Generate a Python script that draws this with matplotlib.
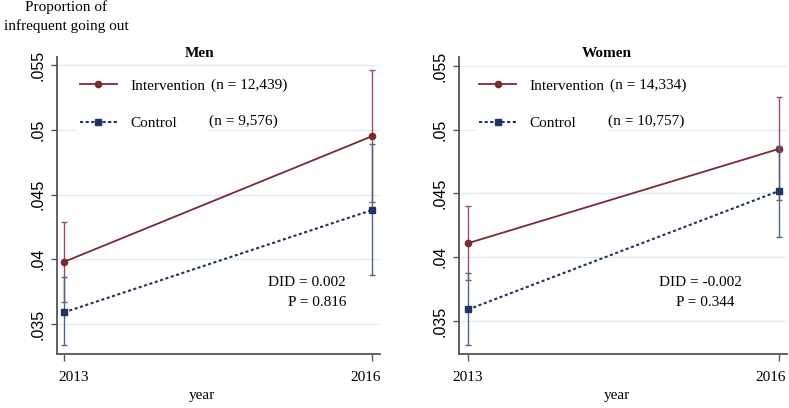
import matplotlib.pyplot as plt
from matplotlib.lines import Line2D
from matplotlib.transforms import ScaledTranslation

# Data
years = [2013, 2016]

men_int = [0.0398, 0.0495]
men_int_lo = [0.0367, 0.0444]
men_int_hi = [0.0429, 0.0546]
men_ctl = [0.0359, 0.0438]
men_ctl_lo = [0.0334, 0.0388]
men_ctl_hi = [0.0386, 0.0489]

women_int = [0.0411, 0.0485]
women_int_lo = [0.0382, 0.0445]
women_int_hi = [0.0440, 0.0526]
women_ctl = [0.0359, 0.0452]
women_ctl_lo = [0.0331, 0.0416]
women_ctl_hi = [0.0388, 0.0487]

yticks = [0.035, 0.04, 0.045, 0.05, 0.055]
ytick_labels = ['.035', '.04', '.045', '.05', '.055']

serif = 'Liberation Serif'
sans = 'Liberation Sans'
red = '#7a2a30'
red_ci = '#9e4f55'
blue = '#1f3563'
blue_ci = '#4f6590'
grid_col = '#e3ebee'
spine_col = '#555555'

fig = plt.figure(figsize=(7.89, 4.08), dpi=100)


def draw_panel(rect, xlim, ylim, title, title_x, i_vals, i_lo, i_hi, c_vals, c_lo, c_hi,
               n_int, n_ctl, n_x, leg_x, did, p, did_pos, p_pos, xlab_shift, year_x):
    ax = fig.add_axes(rect)
    ax.set_xlim(*xlim)
    ax.set_ylim(*ylim)
    for yv in yticks:
        ax.axhline(yv, color=grid_col, lw=1.0, zorder=0)

    i_err = [[v - l for v, l in zip(i_vals, i_lo)], [h - v for v, h in zip(i_vals, i_hi)]]
    c_err = [[v - l for v, l in zip(c_vals, c_lo)], [h - v for v, h in zip(c_vals, c_hi)]]

    ax.errorbar(years, i_vals, yerr=i_err, fmt='none', ecolor=red_ci, elinewidth=1.0,
                capsize=2.5, capthick=1.0, zorder=2)
    ax.plot(years, i_vals, color=red, lw=1.3, marker='o', ms=4.5, zorder=3)
    ax.errorbar(years, c_vals, yerr=c_err, fmt='none', ecolor=blue_ci, elinewidth=1.0,
                capsize=2.5, capthick=1.0, zorder=4)
    ax.plot(years, c_vals, color=blue, lw=1.5, ls=(0, (1.5, 1.2)), marker='s', ms=5, zorder=5)

    for s in ['top', 'right']:
        ax.spines[s].set_visible(False)
    for s in ['left', 'bottom']:
        ax.spines[s].set_color(spine_col)
        ax.spines[s].set_linewidth(1.3)

    ax.set_yticks(yticks)
    ax.set_yticklabels(ytick_labels, rotation=90, va='center', fontfamily=sans, fontsize=11.5)
    ax.set_xticks(years)
    ax.set_xticklabels([str(y) for y in years], fontfamily=serif, fontsize=11)
    ax.tick_params(axis='y', length=4, width=1, color=spine_col, pad=4)
    ax.tick_params(axis='x', length=5, width=1, color=spine_col, pad=7)
    # the reference nudges the year labels sideways a little
    for lab, dx in zip(ax.get_xticklabels(), xlab_shift):
        lab.set_transform(lab.get_transform() + ScaledTranslation(dx / 100, 0, fig.dpi_scale_trans))
    ax.set_xlabel('year', fontfamily=serif, fontsize=11)
    ax.xaxis.set_label_coords(year_x, -0.118)

    ax.text(title_x, 1.013, title, transform=ax.transAxes, ha='center', va='center',
            fontfamily=serif, fontweight='bold', fontsize=11)

    handles = [Line2D([], [], color=red, lw=1.3, marker='o', ms=4.5),
               Line2D([], [], color=blue, lw=1.5, ls=(0, (1.5, 1.2)), marker='s', ms=5)]
    ax.legend(handles, ['Intervention', 'Control'], loc='upper left',
              bbox_to_anchor=(leg_x, 0.936), frameon=True, fancybox=False,
              facecolor='white', edgecolor='none', framealpha=1, borderpad=0.2,
              borderaxespad=0, handlelength=2.4, handletextpad=0.9,
              labelspacing=1.55, prop={'family': serif, 'size': 11})
    box = dict(facecolor='white', edgecolor='none', pad=1.5)
    ax.text(n_x[0], 0.906, n_int, transform=ax.transAxes, ha='left', va='center',
            fontfamily=serif, fontsize=11, bbox=box, zorder=6)
    ax.text(n_x[1], 0.785, n_ctl, transform=ax.transAxes, ha='left', va='center',
            fontfamily=serif, fontsize=11, bbox=box, zorder=6)

    ax.text(did_pos[0], did_pos[1], did, transform=ax.transAxes, ha='center', va='center',
            fontfamily=serif, fontsize=11)
    ax.text(p_pos[0], p_pos[1], p, transform=ax.transAxes, ha='center', va='center',
            fontfamily=serif, fontsize=11)
    return ax


draw_panel([0.0722, 0.1324, 0.4094, 0.728], (2012.932, 2016.078), (0.03269, 0.05562),
           'Men', 0.443, men_int, men_int_lo, men_int_hi, men_ctl, men_ctl_lo, men_ctl_hi,
           '(n = 12,439)', '(n = 9,576)', (0.477, 0.471), 0.062,
           'DID = 0.002', 'P = 0.816', (0.774, 0.242), (0.805, 0.175), (10, -6), 0.449)

draw_panel([0.5817, 0.1324, 0.4158, 0.728], (2012.913, 2016.077), (0.03241, 0.05571),
           'Women', 0.451, women_int, women_int_lo, women_int_hi, women_ctl, women_ctl_lo,
           women_ctl_hi, '(n = 14,334)', '(n = 10,757)', (0.460, 0.454), 0.053,
           'DID = -0.002', 'P = 0.344', (0.735, 0.242), (0.750, 0.175), (0, -8), 0.482)

fig.text(66 / 789, 1 - 17 / 408, 'Proportion of\ninfrequent going out', ha='center',
         va='center', fontfamily=serif, fontsize=11, linespacing=1.5)

fig.savefig('out.png', dpi=100)
